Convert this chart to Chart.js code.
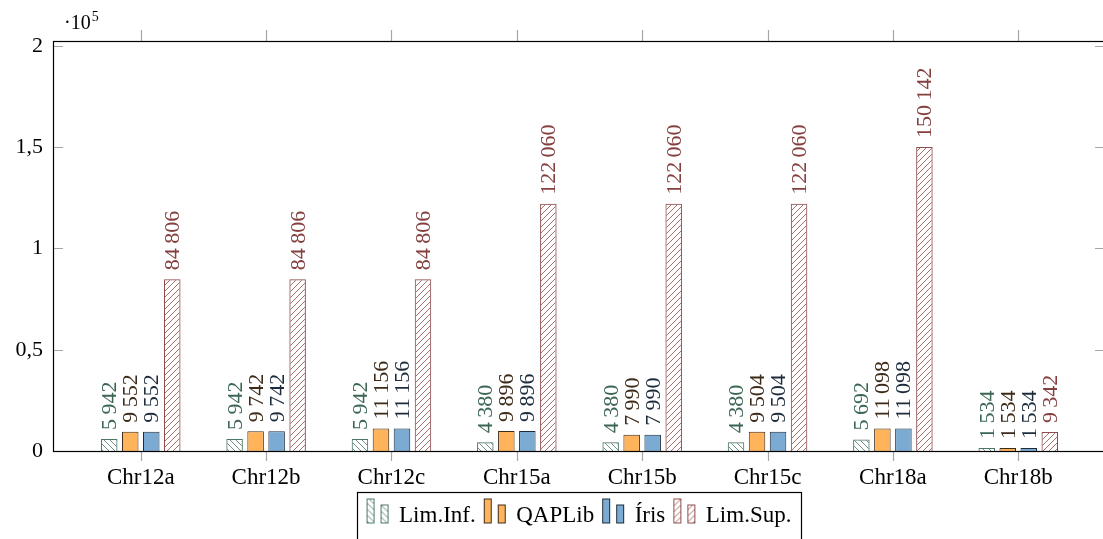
<!DOCTYPE html>
<html>
<head>
<meta charset="utf-8">
<script src="https://cdn.jsdelivr.net/npm/chart.js@4.4.1/dist/chart.umd.min.js"></script>
<style>
  html, body { margin: 0; padding: 0; background: #fff; overflow: hidden; }
</style>
</head>
<body>
<canvas id="chart" width="1110" height="560"></canvas>
<script>
const categories = ['Chr12a', 'Chr12b', 'Chr12c', 'Chr15a', 'Chr15b', 'Chr15c', 'Chr18a', 'Chr18b'];
const limInf = [5942, 5942, 5942, 4380, 4380, 4380, 5692, 1534];
const qaplib = [9552, 9742, 11156, 9896, 7990, 9504, 11098, 1534];
const iris = [9552, 9742, 11156, 9896, 7990, 9504, 11098, 1534];
const limSup = [84806, 84806, 84806, 122060, 122060, 122060, 150142, 9342];
const seriesNames = ['Lim.Inf.', 'QAPLib', 'Íris', 'Lim.Sup.'];
const yTicks = [0, 50000, 100000, 150000, 200000];

const FONT = 'Liberation Serif';
const GREEN = '#4b7864';
const RED = '#8f4c4c';
const ORANGE = '#ffb45c';
const ORANGE_LINE = '#3d2b1a';
const BLUE = '#7babd2';
const BLUE_LINE = '#1d2c3c';

// diagonal hatch, dir > 0 -> north east lines, dir < 0 -> north west lines
function hatch(g, color, dir) {
  const s = 6;
  const c = document.createElement('canvas');
  c.width = s; c.height = s;
  const h = c.getContext('2d');
  h.strokeStyle = color;
  h.lineWidth = 0.8;
  h.beginPath();
  if (dir > 0) {
    h.moveTo(-1, s + 1); h.lineTo(s + 1, -1);
    h.moveTo(-1, 1); h.lineTo(1, -1);
    h.moveTo(s - 1, s + 1); h.lineTo(s + 1, s - 1);
  } else {
    h.moveTo(-1, -1); h.lineTo(s + 1, s + 1);
    h.moveTo(s - 1, -1); h.lineTo(s + 1, 1);
    h.moveTo(-1, s - 1); h.lineTo(1, s + 1);
  }
  h.stroke();
  return g.createPattern(c, 'repeat');
}

function legendIcon(fillFn, stroke) {
  const c = document.createElement('canvas');
  c.width = 24; c.height = 40;
  const g = c.getContext('2d');
  g.fillStyle = fillFn(g);
  g.strokeStyle = stroke;
  g.lineWidth = 1;
  [[1.5, 3.5, 7, 24], [15.5, 9.5, 7, 18]].forEach(([x, y, w, h]) => {
    g.fillRect(x, y, w, h);
    g.strokeRect(x, y, w, h);
  });
  return c;
}

const ctx = document.getElementById('chart').getContext('2d');

const styles = [
  { fill: g => hatch(g, GREEN, -1), line: GREEN, text: '#3b6653' },
  { fill: () => ORANGE, line: ORANGE_LINE, text: ORANGE_LINE },
  { fill: () => BLUE, line: BLUE_LINE, text: BLUE_LINE },
  { fill: g => hatch(g, RED, 1), line: RED, text: '#843f3f' }
];
const seriesValues = [limInf, qaplib, iris, limSup];

const datasets = seriesValues.map((vals, k) => ({
  label: seriesNames[k],
  data: vals.map((v, i) => ({ x: i, y: v })),
  backgroundColor: styles[k].fill(ctx),
  borderColor: styles[k].line,
  borderWidth: 1,
  barPercentage: 0.786,
  categoryPercentage: 0.6705
}));

function fmt(v) {
  return String(v).replace(/\B(?=(\d{3})+(?!\d))/g, '\u2009');
}

const framePlugin = {
  id: 'frame',
  afterDatasetsDraw(chart) {
    const { ctx: g, chartArea: a, scales } = chart;
    g.save();
    // gray tick marks
    g.strokeStyle = '#a6a6a6';
    g.lineWidth = 1.2;
    g.beginPath();
    yTicks.forEach(v => {
      const y = Math.round(scales.y.getPixelForValue(v)) + 0.5;
      g.moveTo(a.left, y); g.lineTo(a.left + 10, y);
      g.moveTo(a.right - 11, y); g.lineTo(a.right, y);
    });
    categories.forEach((c, i) => {
      const x = Math.round(scales.x.getPixelForValue(i)) + 0.5;
      g.moveTo(x, a.top - 11); g.lineTo(x, a.top);
      g.moveTo(x, a.bottom); g.lineTo(x, a.bottom + 10);
    });
    g.stroke();
    // axis box
    g.strokeStyle = '#000';
    g.lineWidth = 1.2;
    g.strokeRect(a.left + 0.5, a.top + 0.5, a.right - a.left, a.bottom - a.top);

    // value labels, rotated
    g.font = '22px "' + FONT + '"';
    g.textAlign = 'left';
    g.textBaseline = 'alphabetic';
    chart.data.datasets.forEach((ds, k) => {
      const meta = chart.getDatasetMeta(k);
      g.fillStyle = styles[k].text;
      meta.data.forEach((bar, i) => {
        g.save();
        g.translate(bar.x, bar.y - 9);
        g.rotate(-Math.PI / 2);
        g.fillText(fmt(seriesValues[k][i]), 0, 7);
        g.restore();
      });
    });

    // scale factor
    g.fillStyle = '#000';
    g.font = '20px "' + FONT + '"';
    g.fillText('\u00b710', 64, 29);
    const w = g.measureText('\u00b710').width;
    g.font = '14px "' + FONT + '"';
    g.fillText('5', 64 + w + 1, 21);
    g.restore();
  },
  afterDraw(chart) {
    const lg = chart.legend;
    const hb = lg.legendHitBoxes;
    if (!hb || !hb.length) return;
    const g = chart.ctx;
    const first = hb[0], last = hb[hb.length - 1];
    g.save();
    g.strokeStyle = '#000';
    g.lineWidth = 1.2;
    g.strokeRect(Math.round(first.left - 11) + 0.5, 492.5, Math.round(last.left + last.width + 9 - first.left + 11), 60);
    g.restore();
  }
};

const chart = new Chart(ctx, {
  type: 'bar',
  data: { datasets },
  options: {
    responsive: false,
    animation: false,
    devicePixelRatio: 1,
    layout: { padding: { top: 41, left: 0, right: 4, bottom: 23 } },
    scales: {
      x: {
        type: 'linear',
        min: -0.7,
        max: 7.7,
        offset: false,
        grid: { display: false, drawTicks: false },
        border: { display: false },
        afterBuildTicks: s => { s.ticks = categories.map((c, i) => ({ value: i })); },
        afterFit: s => { s.height = 44; },
        ticks: {
          autoSkip: false,
          maxRotation: 0,
          padding: 13,
          color: '#000',
          font: { family: FONT, size: 23 },
          callback: v => categories[v]
        }
      },
      y: {
        min: 0,
        max: 202460,
        grid: { display: false, drawTicks: false },
        border: { display: false },
        afterBuildTicks: s => { s.ticks = yTicks.map(v => ({ value: v })); },
        afterFit: s => { s.width = 53; },
        ticks: {
          padding: 10,
          color: '#000',
          font: { family: FONT, size: 22 },
          callback: v => String(v / 100000).replace('.', ',')
        }
      }
    },
    plugins: {
      legend: {
        position: 'bottom',
        fullSize: false,
        labels: {
          usePointStyle: true,
          pointStyleWidth: 20,
          padding: 9,
          color: '#000',
          font: { family: FONT, size: 23 },
          generateLabels: ch => ch.data.datasets.map((ds, k) => ({
            text: ds.label,
            datasetIndex: k,
            pointStyle: legendIcon(styles[k].fill, styles[k].line),
            fillStyle: 'transparent',
            strokeStyle: 'transparent',
            lineWidth: 0,
            fontColor: '#000'
          }))
        }
      },
      tooltip: { enabled: false }
    }
  },
  plugins: [framePlugin]
});
</script>
</body>
</html>
